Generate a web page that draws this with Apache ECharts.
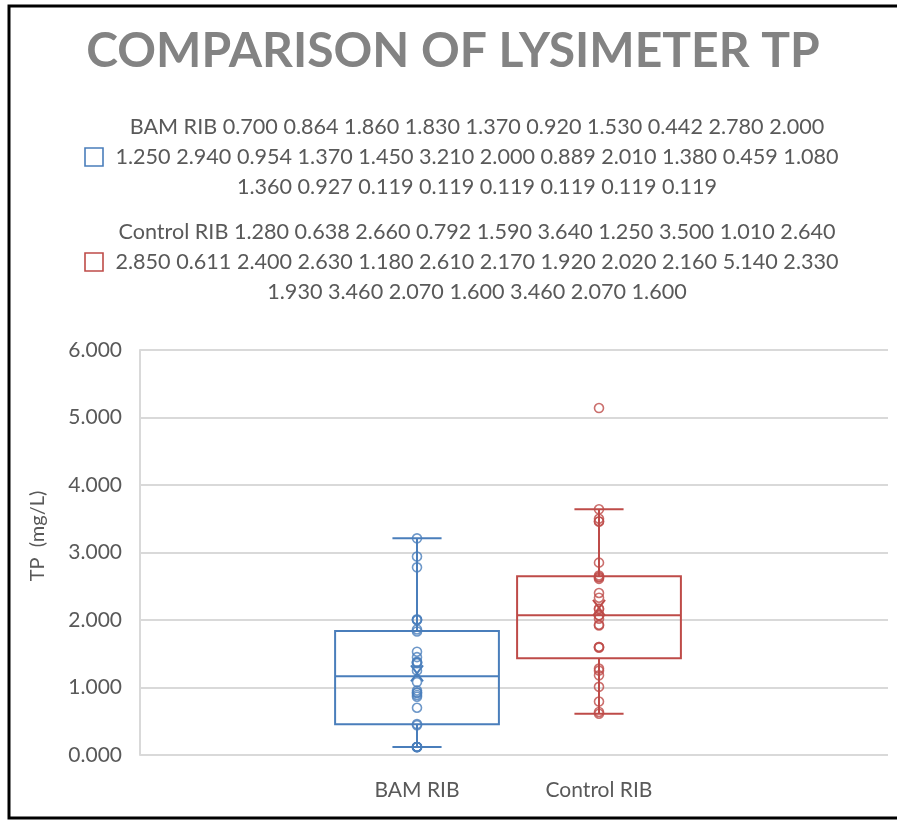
<!DOCTYPE html>
<html>
<head>
<meta charset="utf-8">
<title>Comparison of Lysimeter TP</title>
<script src="https://cdn.jsdelivr.net/npm/echarts@6/dist/echarts.min.js"></script>
<style>
html, body { margin: 0; padding: 0; background: #fff; }
#main { width: 897px; height: 820px; }
</style>
</head>
<body>
<div id="main"></div>
<script>
var categories = ['BAM RIB', 'Control RIB'];
var bamRib = [0.700, 0.864, 1.860, 1.830, 1.370, 0.920, 1.530, 0.442, 2.780, 2.000,
    1.250, 2.940, 0.954, 1.370, 1.450, 3.210, 2.000, 0.889, 2.010, 1.380, 0.459, 1.080,
    1.360, 0.927, 0.119, 0.119, 0.119, 0.119, 0.119, 0.119];
var controlRib = [1.280, 0.638, 2.660, 0.792, 1.590, 3.640, 1.250, 3.500, 1.010, 2.640,
    2.850, 0.611, 2.400, 2.630, 1.180, 2.610, 2.170, 1.920, 2.020, 2.160, 5.140, 2.330,
    1.930, 3.460, 2.070, 1.600, 3.460, 2.070, 1.600];
var yTicks = [0, 1, 2, 3, 4, 5, 6];
// legend text wraps after these many values
var lineBreaks = [10, 22];
var colors = ['#4a7ebb', '#be4b48'];

// Excel QUARTILE.EXC
function quartile(sorted, p) {
    var pos = p * (sorted.length + 1) - 1;
    var lo = Math.floor(pos), hi = Math.ceil(pos);
    return sorted[lo] + (sorted[hi] - sorted[lo]) * (pos - lo);
}
function boxStats(idx, vals) {
    var s = vals.slice().sort(function (a, b) { return a - b; });
    var q1 = quartile(s, 0.25), med = quartile(s, 0.5), q3 = quartile(s, 0.75);
    var iqr = q3 - q1;
    var inside = s.filter(function (v) { return v >= q1 - 1.5 * iqr && v <= q3 + 1.5 * iqr; });
    var mean = s.reduce(function (a, b) { return a + b; }, 0) / s.length;
    return [idx, inside[0], q1, med, q3, inside[inside.length - 1], mean];
}
function legendLines(name, vals) {
    var f = vals.map(function (v) { return v.toFixed(3); });
    return [
        name + ' ' + f.slice(0, lineBreaks[0]).join(' '),
        f.slice(lineBreaks[0], lineBreaks[1]).join(' '),
        f.slice(lineBreaks[1]).join(' ')
    ].join('\n');
}

var allSets = [bamRib, controlRib];

function renderBox(params, api) {
    var x = api.value(0);
    var lo = api.coord([x, api.value(1)]);
    var q1 = api.coord([x, api.value(2)]);
    var med = api.coord([x, api.value(3)]);
    var q3 = api.coord([x, api.value(4)]);
    var hi = api.coord([x, api.value(5)]);
    var mn = api.coord([x, api.value(6)]);
    var band = api.size([1, 0])[0];
    var bw = band * 0.9, cw = band * 0.27;
    var cx = lo[0];
    var st = { stroke: api.visual('color'), lineWidth: 2, fill: null };
    function ln(x1, y1, x2, y2) {
        return { type: 'line', shape: { x1: x1, y1: y1, x2: x2, y2: y2 }, style: st };
    }
    return {
        type: 'group',
        children: [
            ln(cx, lo[1], cx, q1[1]),
            ln(cx, q3[1], cx, hi[1]),
            ln(cx - cw / 2, lo[1], cx + cw / 2, lo[1]),
            ln(cx - cw / 2, hi[1], cx + cw / 2, hi[1]),
            { type: 'rect', shape: { x: cx - bw / 2, y: q3[1], width: bw, height: q1[1] - q3[1] }, style: st },
            ln(cx - bw / 2, med[1], cx + bw / 2, med[1]),
            ln(cx - 6, mn[1] - 8, cx + 6, mn[1] + 8),
            ln(cx - 6, mn[1] + 8, cx + 6, mn[1] - 8)
        ]
    };
}

var series = [];
categories.forEach(function (name, i) {
    series.push({
        name: name,
        type: 'custom',
        xAxisIndex: 1,
        yAxisIndex: 1,
        color: colors[i],
        renderItem: renderBox,
        encode: { x: 0, y: [1, 2, 3, 4, 5] },
        data: [boxStats(i, allSets[i])],
        z: 2
    });
    series.push({
        name: name,
        type: 'scatter',
        xAxisIndex: 1,
        yAxisIndex: 1,
        symbol: 'circle',
        symbolSize: 9,
        itemStyle: { color: 'rgba(255,255,255,0)', borderColor: colors[i], borderWidth: 1.6 },
        data: allSets[i].map(function (v) { return [i, v]; }),
        z: 3
    });
});

var graphics = [
    { type: 'rect', shape: { x: 9, y: 6, width: 900, height: 812 },
      style: { fill: null, stroke: '#000', lineWidth: 3 } },
    { type: 'text', x: 453, y: 52,
      style: { text: 'COMPARISON OF LYSIMETER TP', font: 'bold 48px Lato', fill: '#838383',
               textAlign: 'center', textVerticalAlign: 'middle' } },
    { type: 'text', x: 38, y: 536, rotation: Math.PI / 2,
      style: { text: 'TP  (mg/L)', font: '20px Lato', fill: '#595959',
               textAlign: 'center', textVerticalAlign: 'middle' } }
];
var legendY = [157, 262];
categories.forEach(function (name, i) {
    graphics.push({ type: 'rect', shape: { x: 85, y: legendY[i] - 9, width: 18, height: 18 },
        style: { fill: null, stroke: colors[i], lineWidth: 1.6 } });
    graphics.push({ type: 'text', x: 477, y: legendY[i],
        style: { text: legendLines(name, allSets[i]), font: '21.6px Lato', fill: '#595959',
                 textAlign: 'center', textVerticalAlign: 'middle', lineHeight: 30 } });
});

var chart = echarts.init(document.getElementById('main'));
chart.setOption({
    backgroundColor: '#fff',
    animation: false,
    textStyle: { fontFamily: 'Lato' },
    grid: [
        { left: 140, right: 9, top: 350, bottom: 65 },
        { left: 326, right: 207, top: 350, bottom: 65 }
    ],
    xAxis: [
        { gridIndex: 0, type: 'value', show: false },
        { gridIndex: 1, type: 'category', data: categories,
          axisLine: { show: false }, axisTick: { show: false },
          axisLabel: { fontSize: 21, color: '#595959', margin: 25 } }
    ],
    yAxis: [
        { gridIndex: 0, type: 'value', min: yTicks[0], max: yTicks[yTicks.length - 1], interval: 1,
          axisLine: { show: true, lineStyle: { color: '#d9d9d9', width: 2 } },
          axisTick: { show: false },
          axisLabel: { fontSize: 21, color: '#595959', margin: 18,
                       formatter: function (v) { return v.toFixed(3); } },
          splitLine: { lineStyle: { color: '#d9d9d9', width: 2 } } },
        { gridIndex: 1, type: 'value', min: yTicks[0], max: yTicks[yTicks.length - 1], interval: 1, show: false,
          splitLine: { show: false } }
    ],
    graphic: graphics,
    series: series
});
</script>
</body>
</html>
